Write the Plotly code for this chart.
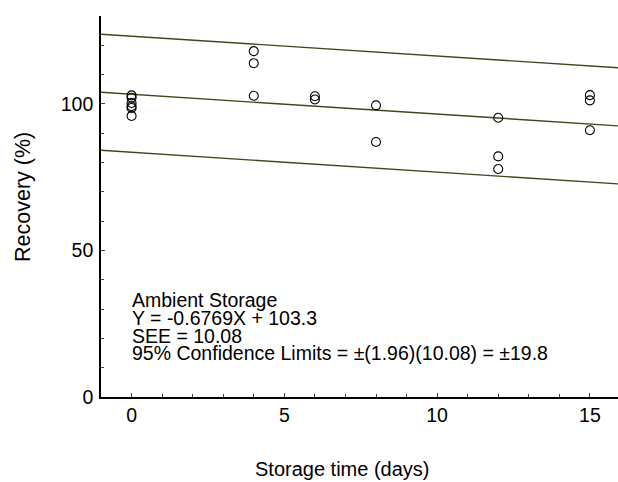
import plotly.graph_objects as go

# ---- data ----
days = [0, 0, 0, 0, 0, 0, 4, 4, 4, 6, 6, 8, 8, 12, 12, 12, 15, 15, 15]
recovery = [102.9, 102.1, 100.3, 99.2, 98.6, 95.9,
            118.0, 113.9, 102.8,
            102.6, 101.5,
            99.5, 87.0,
            95.3, 82.1, 77.8,
            103.0, 101.2, 91.0]

slope = -0.6769
intercept = 103.3
see = 10.08
t_value = 1.96
limit = 19.8
line_x = [-1, 16]

text_lines = [
    "Ambient Storage",
    f"Y = {slope}X + {intercept}",
    f"SEE = {see}",
    f"95% Confidence Limits = \u00b1({t_value})({see}) = \u00b1{limit}",
]
x_title = "Storage time (days)"
y_title = "Recovery (%)"

FONT = "Liberation Sans, Arial, sans-serif"
LINE_COLOR = "#45451c"

# plot-area geometry (pixels)
L, R, T, B = 101, 618, 16, 397
PW, PH = R - L, B - T

fig = go.Figure()

center = [slope * x + intercept for x in line_x]
for off in (limit, 0, -limit):
    fig.add_trace(go.Scatter(
        x=line_x, y=[c + off for c in center], mode="lines",
        line=dict(color=LINE_COLOR, width=1.4), hoverinfo="skip", showlegend=False))

fig.add_trace(go.Scatter(
    x=days, y=recovery, mode="markers",
    marker=dict(symbol="circle-open", size=9, color="black", line=dict(width=1.1)),
    showlegend=False))

text_y = [300, 318, 335.5, 353]  # pixel centers
for t, py in zip(text_lines, text_y):
    fig.add_annotation(
        text=t, xref="paper", yref="paper",
        x=(130 - L) / PW, y=(B - py) / PH,
        xanchor="left", yanchor="middle", showarrow=False,
        font=dict(family=FONT, size=19.5, color="black"))

# axis titles
fig.add_annotation(
    text=x_title, xref="paper", yref="paper",
    x=(342.5 - L) / PW, y=(B - 469) / PH,
    xanchor="center", yanchor="middle", showarrow=False,
    font=dict(family=FONT, size=20, color="black"))
fig.add_annotation(
    text=y_title, xref="paper", yref="paper", textangle=-90,
    x=(23 - L) / PW, y=(B - 197) / PH,
    xanchor="center", yanchor="middle", showarrow=False,
    font=dict(family=FONT, size=21.5, color="black"))

fig.update_layout(
    width=618, height=482,
    margin=dict(l=L, r=0, t=T, b=482 - B),
    paper_bgcolor="white", plot_bgcolor="white",
    font=dict(family=FONT, size=19, color="black"),
    xaxis=dict(
        range=[-1, 15.92], tick0=0, dtick=5, ticks="inside", ticklen=4,
        tickcolor=LINE_COLOR, tickwidth=1,
        minor=dict(dtick=1, tick0=0, ticks="inside", ticklen=3, tickcolor=LINE_COLOR),
        showline=True, linecolor="black", linewidth=1.6, mirror=False,
        showgrid=False, zeroline=False,
        ticklabelstandoff=0,
        tickfont=dict(size=19.5),
    ),
    xaxis2=dict(
        overlaying="x", matches="x", side="top", anchor="y",
        range=[-1, 15.92], tick0=0, dtick=5, ticks="inside", ticklen=4,
        tickcolor=LINE_COLOR, showticklabels=False,
        showline=True, linecolor="black", linewidth=1.6,
        showgrid=False, zeroline=False,
    ),
    yaxis=dict(
        range=[0, 130], tick0=0, dtick=50, ticks="inside", ticklen=4,
        tickcolor=LINE_COLOR,
        minor=dict(dtick=10, tick0=0, ticks="inside", ticklen=3, tickcolor=LINE_COLOR),
        showline=True, linecolor="black", linewidth=1.6,
        showgrid=False, zeroline=False,
        ticklabelstandoff=2,
        tickfont=dict(size=19.5),
    ),
)

fig.write_html("out.html")
